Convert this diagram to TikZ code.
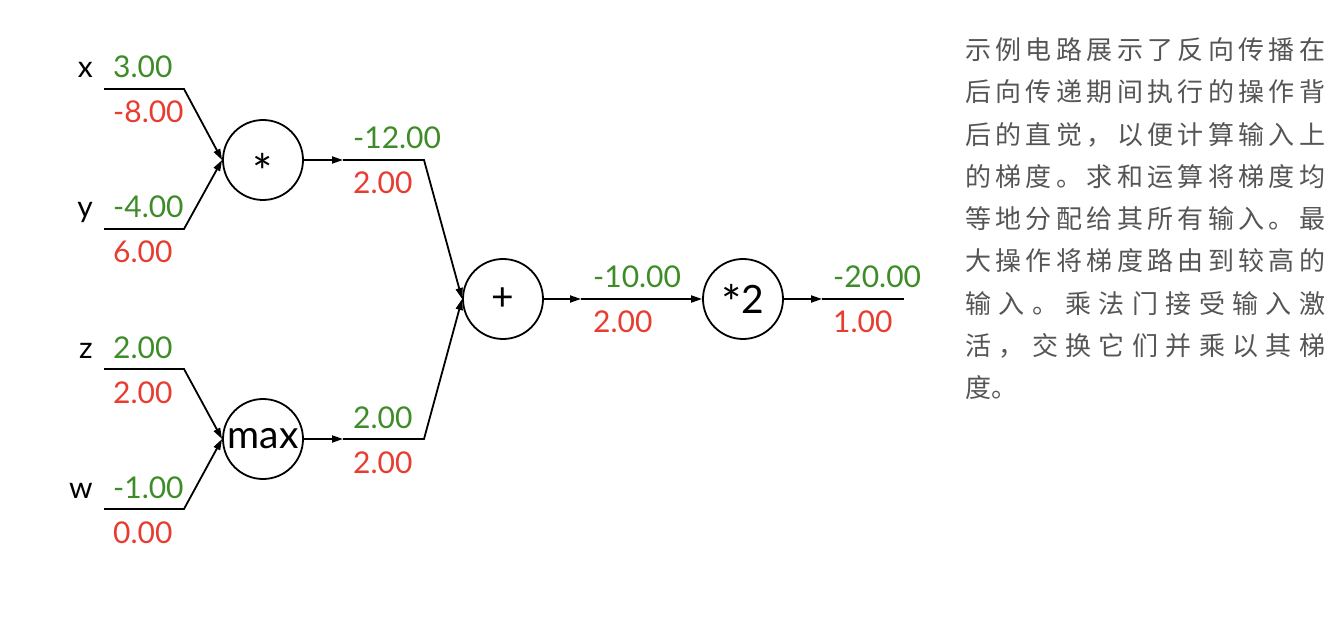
\documentclass[tikz,border=0pt]{standalone}
\usepackage{fontspec}
\setmainfont{Lato}
\newfontfamily\cjk{Noto Sans CJK SC}
\usetikzlibrary{arrows.meta}
\definecolor{fwd}{RGB}{62,140,40}
\definecolor{bwd}{RGB}{232,60,48}
\definecolor{note}{RGB}{85,85,85}
\newcommand\jl[1]{\makebox[360pt][s]{#1}}
\newcommand\bigast{\raisebox{-7pt}{\fontsize{48}{50}\selectfont *}}
\tikzset{
  wire/.style={line width=1.8pt, line join=miter},
  arr/.style={wire, -{Triangle[length=11pt,width=7pt]}},
  gate/.style={circle, draw, line width=1.8pt, minimum size=80pt, inner sep=0pt},
  gatelbl/.style={font=\fontsize{39}{42}\selectfont, inner sep=0pt},
  fv/.style={anchor=base west, inner sep=0pt, text=fwd, font=\fontsize{30}{34}\selectfont},
  bv/.style={anchor=base west, inner sep=0pt, text=bwd, font=\fontsize{30}{34}\selectfont},
  var/.style={anchor=base east, inner sep=0pt, font=\fontsize{30}{34}\selectfont},
  txt/.style={anchor=west, inner sep=0pt, text=note, font=\cjk\fontsize{26}{30}\selectfont},
}
\begin{document}
\begin{tikzpicture}[x=1pt,y=-1pt]
\fill[white] (0,0) rectangle (1344,628);
\useasboundingbox (0,0) rectangle (1344,628);

% gates
\node[gate] (mul) at (263,160) {};
\node[inner sep=0pt, font=\fontsize{48}{50}\selectfont, yshift=-11pt] (mullbl) at (mul) {*};
\node[gate] (mx) at (263,439) {};
\node[gatelbl] (mxlbl) at (mx) {max};
\node[gate] (add) at (503,299) {};
\node[gatelbl] (addlbl) at (add) {+};
\node[gate] (tw) at (743,299) {};
\node[gatelbl, anchor=base, yshift=-14pt] (twlbl) at (tw) {\bigast 2};

% input wires
\coordinate (xs) at (104,89);  \coordinate (xe) at (184,89);
\coordinate (ys) at (104,229); \coordinate (ye) at (184,229);
\coordinate (zs) at (104,369); \coordinate (ze) at (184,369);
\coordinate (ws) at (104,509); \coordinate (we) at (184,509);
\draw[arr] (xs) -- (xe) -- (mul.west);
\draw[arr] (ys) -- (ye) -- (mul.west);
\draw[arr] (zs) -- (ze) -- (mx.west);
\draw[arr] (ws) -- (we) -- (mx.west);

% intermediate wires
\coordinate (m1a) at (343,160); \coordinate (m1e) at (424,160);
\coordinate (m2a) at (343,439); \coordinate (m2e) at (424,439);
\draw[arr] (mul.east) -- (m1a);
\draw[arr] (m1a) -- (m1e) -- (add.west);
\draw[arr] (mx.east) -- (m2a);
\draw[arr] (m2a) -- (m2e) -- (add.west);

\coordinate (a1) at (581,299);
\draw[arr] (add.east) -- (a1);
\draw[arr] (a1) -- (tw.west);
\coordinate (o1) at (822,299); \coordinate (oe) at (904,299);
\draw[arr] (tw.east) -- (o1);
\draw[wire] (o1) -- (oe);

% variable names
\node[var] (lx) at (93,78) {x};
\node[var] (ly) at (93,218) {y};
\node[var] (lz) at (93,358) {z};
\node[var] (lw) at (93,498) {w};

% values
\node[fv] (vx) at (113,78) {3.00};
\node[bv] (gx) at (113,123) {-8.00};
\node[fv] (vy) at (113,218) {-4.00};
\node[bv] (gy) at (113,263) {6.00};
\node[fv] (vz) at (113,358) {2.00};
\node[bv] (gz) at (113,403) {2.00};
\node[fv] (vw) at (113,498) {-1.00};
\node[bv] (gw) at (113,543) {0.00};
\node[fv] (vm) at (353,149) {-12.00};
\node[bv] (gm) at (353,194) {2.00};
\node[fv] (vmx) at (353,428) {2.00};
\node[bv] (gmx) at (353,473) {2.00};
\node[fv] (va) at (593,288) {-10.00};
\node[bv] (ga) at (593,333) {2.00};
\node[fv] (vo) at (833,288) {-20.00};
\node[bv] (go) at (833,333) {1.00};

% description
\node[txt] (t1) at (965,50)  {\jl{示\hfill 例\hfill 电\hfill 路\hfill 展\hfill 示\hfill 了\hfill 反\hfill 向\hfill 传\hfill 播\hfill 在}};
\node[txt] (t2) at (965,92)  {\jl{后\hfill 向\hfill 传\hfill 递\hfill 期\hfill 间\hfill 执\hfill 行\hfill 的\hfill 操\hfill 作\hfill 背}};
\node[txt] (t3) at (965,135) {\jl{后\hfill 的\hfill 直\hfill 觉\hfill ，\hfill 以\hfill 便\hfill 计\hfill 算\hfill 输\hfill 入\hfill 上}};
\node[txt] (t4) at (965,177) {\jl{的\hfill 梯\hfill 度\hfill 。\hfill 求\hfill 和\hfill 运\hfill 算\hfill 将\hfill 梯\hfill 度\hfill 均}};
\node[txt] (t5) at (965,219) {\jl{等\hfill 地\hfill 分\hfill 配\hfill 给\hfill 其\hfill 所\hfill 有\hfill 输\hfill 入\hfill 。\hfill 最}};
\node[txt] (t6) at (965,261) {\jl{大\hfill 操\hfill 作\hfill 将\hfill 梯\hfill 度\hfill 路\hfill 由\hfill 到\hfill 较\hfill 高\hfill 的}};
\node[txt] (t7) at (965,304) {\jl{输\hfill 入\hfill 。\hfill 乘\hfill 法\hfill 门\hfill 接\hfill 受\hfill 输\hfill 入\hfill 激}};
\node[txt] (t8) at (965,346) {\jl{活\hfill ，\hfill 交\hfill 换\hfill 它\hfill 们\hfill 并\hfill 乘\hfill 以\hfill 其\hfill 梯}};
\node[txt] (t9) at (965,388) {度。};
\end{tikzpicture}
\end{document}
